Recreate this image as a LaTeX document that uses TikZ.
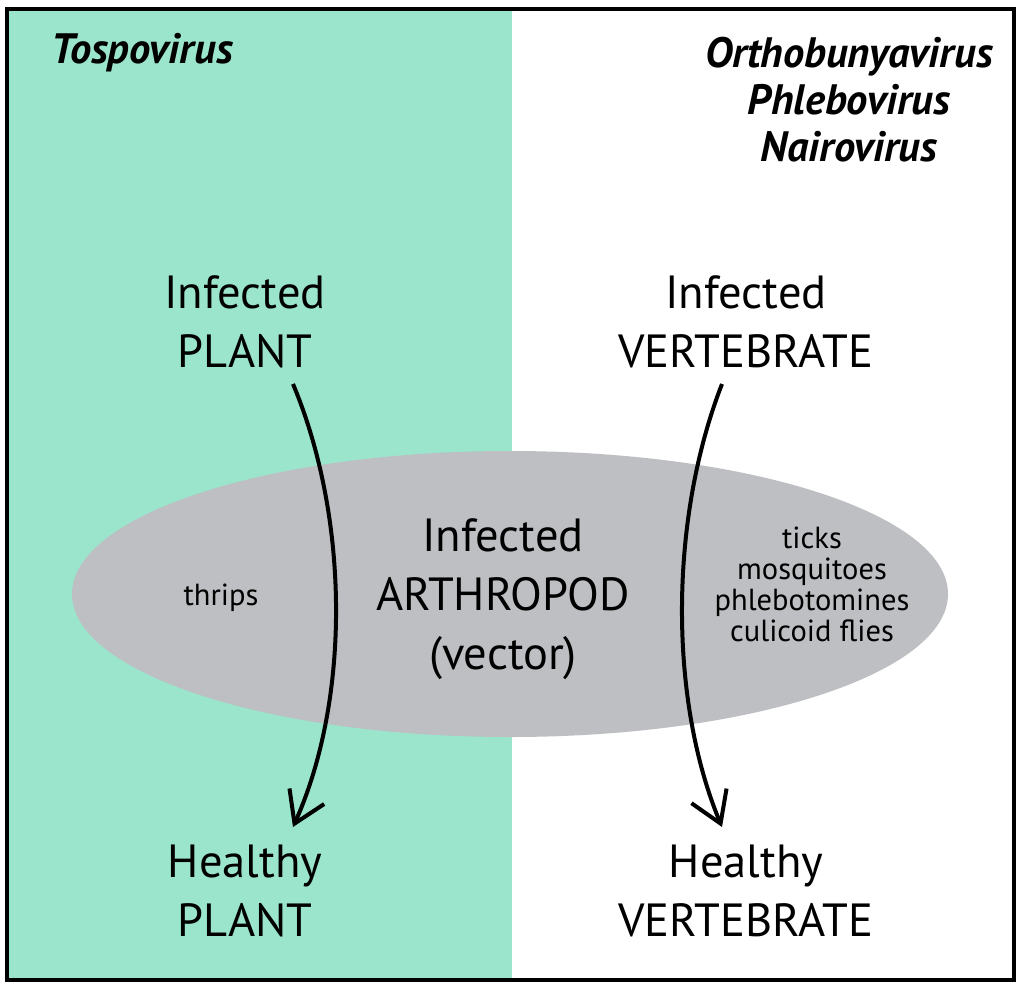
\documentclass[tikz,border=0pt]{standalone}
\usepackage{fontspec}
\setmainfont{PT Sans}
\usetikzlibrary{arrows.meta,shapes.geometric}
\definecolor{mint}{RGB}{154,229,203}
\definecolor{vgray}{RGB}{190,191,195}
\begin{document}
\begin{tikzpicture}[x=1pt,y=-1pt,
  bigtext/.style={align=center,font=\fontsize{46.5}{59}\selectfont,inner sep=0pt},
  smalltext/.style={align=center,font=\fontsize{30.5}{31}\selectfont,inner sep=0pt},
  header/.style={align=center,font=\fontsize{42.5}{47}\selectfont\bfseries\itshape,inner sep=0pt},
  cyclearrow/.style={line width=4pt,-{Straight Barb[length=30pt,width=38pt]}}]
\useasboundingbox (0,0) rectangle (1024,988);
\fill[white] (0,0) rectangle (1024,988);
\fill[mint] (7,8.5) rectangle (512,980);
\node[ellipse,fill=vgray,minimum width=876pt,minimum height=286pt,inner sep=0pt] (vec) at (510,594) {};
\draw[line width=4pt] (7,8.5) rectangle (1013.5,980);
% headers
\node[header,anchor=west] (tosp) at (51,53) {Tospovirus};
\node[header] (others) at (849,100) {Orthobunyavirus\\Phlebovirus\\Nairovirus};
% host nodes
\node[bigtext] (ip) at (245,322) {Infected\\PLANT};
\node[bigtext] (iv) at (746,322) {Infected\\VERTEBRATE};
\node[bigtext] (hp) at (245,891) {Healthy\\PLANT};
\node[bigtext] (hv) at (746,891) {Healthy\\VERTEBRATE};
\node[bigtext] (ia) at (503,599) {Infected\\ARTHROPOD\\(vector)};
\node[smalltext] (thr) at (221,598) {thrips};
\node[smalltext] (vecs) at (812,584) {ticks\\mosquitoes\\phlebotomines\\culicoid flies};
% arrows
\coordinate (ls) at (293,384);
\coordinate (le) at (293,827);
\coordinate (rs) at (722,384);
\coordinate (re) at (722,827);
\draw[cyclearrow] (ls) .. controls (350,520) and (350,700) .. (le);
\draw[cyclearrow] (rs) .. controls (669,520) and (669,700) .. (re);
\end{tikzpicture}
\end{document}
